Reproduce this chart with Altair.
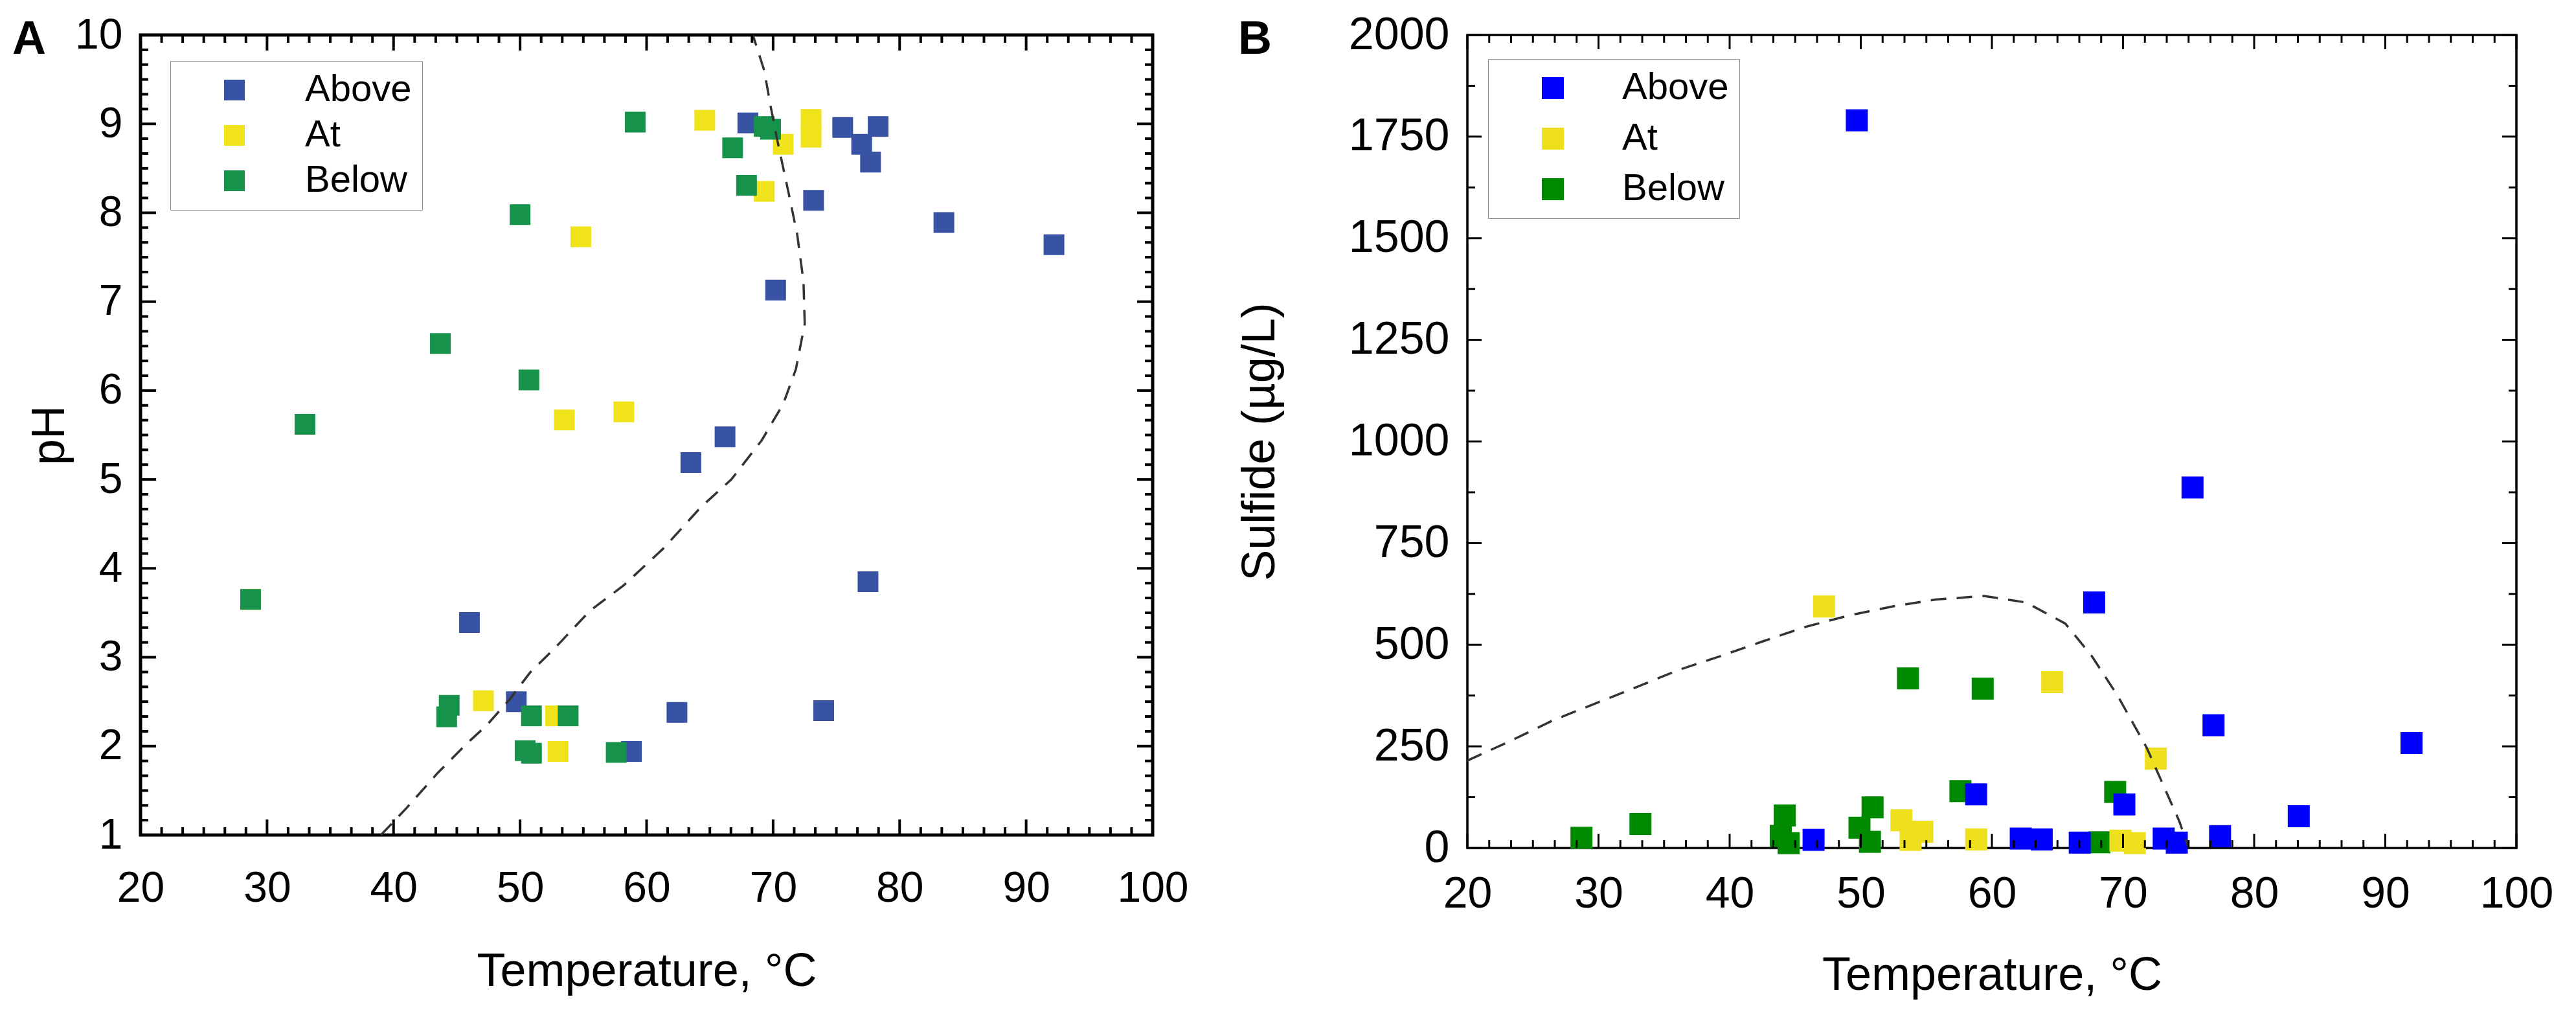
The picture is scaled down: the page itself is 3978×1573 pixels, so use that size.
import altair as alt
import pandas as pd

FONT = "Liberation Sans"
CATS = ["Above", "At", "Below"]

# ---------------- Panel A : pH vs temperature ----------------
A_above_T = [68.0, 75.5, 78.3, 77.0, 77.7, 73.2, 83.5, 92.2, 70.2, 66.2, 63.5, 77.5, 46.0, 49.7, 62.4, 74.0, 58.8]
A_above_pH = [9.01, 8.96, 8.97, 8.77, 8.57, 8.14, 7.89, 7.64, 7.13, 5.48, 5.19, 3.85, 3.39, 2.50, 2.38, 2.40, 1.94]

A_at_T = [64.6, 70.8, 73.0, 73.0, 69.3, 54.8, 58.2, 53.5, 28.7, 47.1, 52.8, 53.0]
A_at_pH = [9.04, 8.77, 9.05, 8.85, 8.24, 7.73, 5.76, 5.67, 3.65, 2.51, 2.34, 1.94]

A_below_T = [59.1, 69.3, 69.8, 66.8, 67.9, 50.0, 43.7, 50.7, 33.0, 28.7, 44.2, 44.4, 50.9, 53.8, 50.4, 50.9, 57.6]
A_below_pH = [9.02, 8.97, 8.94, 8.73, 8.31, 7.98, 6.53, 6.12, 5.62, 3.65, 2.33, 2.46, 2.34, 2.34, 1.95, 1.92, 1.93]

A_curve_T = [39.0, 41.0, 43.5, 45.8, 47.4, 49.2, 50.8, 52.8, 55.5, 58.2, 61.3, 64.3, 66.7, 69.1, 70.8,
             71.8, 72.5, 72.4, 71.9, 71.2, 70.4, 69.8, 69.3, 68.4]
A_curve_pH = [1.0, 1.3, 1.7, 2.03, 2.24, 2.53, 2.83, 3.11, 3.52, 3.81, 4.22, 4.69, 5.0, 5.44, 5.85,
              6.24, 6.75, 7.23, 7.76, 8.24, 8.77, 9.2, 9.6, 10.0]

# ---------------- Panel B : sulfide vs temperature ----------------
B_above_T = [49.7, 75.3, 67.8, 76.9, 92.0, 83.4, 58.8, 70.1, 46.4, 62.2, 63.8, 66.7, 73.1, 74.1, 77.4]
B_above_S = [1790, 887, 604, 302, 258, 78, 132, 107, 20, 23, 21, 13, 23, 13, 29]

B_at_T = [47.2, 64.6, 72.5, 53.1, 54.7, 53.8, 58.8, 69.8, 70.9]
B_at_S = [594, 408, 220, 68, 40, 20, 21, 18, 12]

B_below_T = [28.7, 33.2, 44.2, 43.9, 44.5, 50.9, 49.9, 50.7, 53.6, 59.3, 57.6, 69.4, 68.2]
B_below_S = [25, 59, 80, 30, 12, 100, 50, 15, 417, 392, 140, 138, 14]

B_curve_T = [20, 23.2, 26.6, 29.8, 33.0, 36.2, 39.3, 42.5, 45.8, 49.1, 52.4, 55.7, 59.4, 62.6,
             65.6, 67.6, 69.6, 71.8, 74.3, 75.0]
B_curve_S = [215, 262, 315, 356, 397, 439, 472, 508, 544, 572, 594, 611, 620, 604,
             552, 473, 374, 247, 65, 0]

# tick labels
X_TICKS = [20, 30, 40, 50, 60, 70, 80, 90, 100]
A_Y_TICKS = [1, 2, 3, 4, 5, 6, 7, 8, 9, 10]
B_Y_TICKS = [0, 250, 500, 750, 1000, 1250, 1500, 1750, 2000]


def pts(groups):
    frames = []
    for cat, xs, ys in groups:
        frames.append(pd.DataFrame({"T": xs, "v": ys, "cat": cat}))
    return pd.concat(frames, ignore_index=True)


def minors(majors, n):
    out = []
    for a, b in zip(majors[:-1], majors[1:]):
        for j in range(1, n + 1):
            out.append(round(a + (b - a) * j / (n + 1), 4))
    return out


def tick_layers(xmaj, xmin, ymaj, ymin, W, H, X, Y, Lmaj, Lmin, sw):
    layers = []
    for vals, L in [(xmaj, Lmaj), (xmin, Lmin)]:
        base = alt.Chart(pd.DataFrame({"T": vals})).mark_rule(color="black", strokeWidth=sw)
        layers.append(base.encode(x=X, y=alt.value(H), y2=alt.value(H - L)))
        layers.append(base.encode(x=X, y=alt.value(0), y2=alt.value(L)))
    for vals, L in [(ymaj, Lmaj), (ymin, Lmin)]:
        base = alt.Chart(pd.DataFrame({"v": vals})).mark_rule(color="black", strokeWidth=sw)
        layers.append(base.encode(y=Y, x=alt.value(0), x2=alt.value(L)))
        layers.append(base.encode(y=Y, x=alt.value(W), x2=alt.value(W - L)))
    return layers


def panel(df, curve, W, H, xs, ys, yticks, ymin, ytitle, colors, leg, ax, letter, letter_x, view_sw,
          size, tick_maj, tick_min, tick_sw):
    xaxis = alt.Axis(values=X_TICKS, title="Temperature, °C", labelFontSize=ax["lfs"], format="d",
                     labelPadding=ax["xlp"], titleFontSize=72, titlePadding=ax["xtp"])
    yaxis = alt.Axis(values=yticks, title=ytitle, labelFontSize=ax["ylfs"], format="d",
                     labelPadding=ax["ylp"], titleFontSize=72, titlePadding=ax["ytp"])
    X = alt.X("T:Q", scale=xs, axis=xaxis)
    Y = alt.Y("v:Q", scale=ys, axis=yaxis)
    points = alt.Chart(df).mark_square(size=size, opacity=1, strokeWidth=0).encode(
        x=X, y=Y,
        color=alt.Color("cat:N", scale=alt.Scale(domain=CATS, range=colors), legend=leg),
    )
    line = alt.Chart(curve).mark_line(color="#333333", strokeWidth=3.5, strokeDash=[24, 16]).encode(
        x=X, y=Y, order="i:Q",
    )
    lab = alt.Chart(pd.DataFrame({"t": [letter]})).mark_text(
        font=FONT, fontSize=72, fontWeight="bold", align="left", baseline="top", color="black"
    ).encode(x=alt.value(letter_x), y=alt.value(-28), text="t:N")
    ticks = tick_layers(X_TICKS, minors(X_TICKS, 5), yticks, ymin, W, H, X, Y, tick_maj, tick_min, tick_sw)
    return alt.layer(points, line, lab, *ticks).properties(
        width=W, height=H, view=alt.ViewBackground(stroke="black", strokeWidth=view_sw)
    )


# ---- Panel A
dfA = pts([("Above", A_above_T, A_above_pH), ("At", A_at_T, A_at_pH), ("Below", A_below_T, A_below_pH)])
curveA = pd.DataFrame({"T": A_curve_T, "v": A_curve_pH, "i": range(len(A_curve_T))})
xA = alt.Scale(domain=[20, 100], nice=False, zero=False)
yA = alt.Scale(domain=[1, 10], nice=False, zero=False)
legA = alt.Legend(orient="none", legendX=46, legendY=40, title=None, symbolType="square",
                  symbolSize=1024, symbolStrokeWidth=0, symbolOpacity=1, labelFontSize=58,
                  labelFont=FONT, labelLimit=400, padding=16, symbolOffset=54, labelOffset=80,
                  rowPadding=12, strokeColor="#8a8a8a", fillColor="white")
chartA = panel(dfA, curveA, 1563, 1235, xA, yA, A_Y_TICKS, minors(A_Y_TICKS, 5), "pH",
               ["#3953A4", "#F0E31C", "#17924A"], legA,
               {"lfs": 66, "xlp": 50, "xtp": 60, "ylfs": 66, "ylp": 28, "ytp": 2},
               "A", -198, 5, 1024, 24, 12, 4)

# ---- Panel B
dfB = pts([("Below", B_below_T, B_below_S), ("At", B_at_T, B_at_S), ("Above", B_above_T, B_above_S)])
curveB = pd.DataFrame({"T": B_curve_T, "v": B_curve_S, "i": range(len(B_curve_T))})
xB = alt.Scale(domain=[20, 100], nice=False, zero=False)
yB = alt.Scale(domain=[0, 2000], nice=False, zero=False)
legB = alt.Legend(orient="none", legendX=32, legendY=37, title=None, symbolType="square",
                  symbolSize=1156, symbolStrokeWidth=0, symbolOpacity=1, labelFontSize=58,
                  labelFont=FONT, labelLimit=400, padding=16, symbolOffset=55, labelOffset=78,
                  rowPadding=20, strokeColor="#8a8a8a", fillColor="white")
chartB = panel(dfB, curveB, 1620, 1255, xB, yB, B_Y_TICKS, minors(B_Y_TICKS, 1), "Sulfide (µg/L)",
               ["#0000FF", "#EEE01E", "#008A00"], legB,
               {"lfs": 68, "xlp": 37, "xtp": 56, "ylfs": 70, "ylp": 28, "ytp": 100},
               "B", -354, 3.5, 1156, 22, 12, 3)

chart = alt.hconcat(chartA, chartB, spacing=486, bounds="flush").resolve_scale(
    color="independent"
).properties(
    padding={"left": 8, "top": 9, "right": 5, "bottom": 5}
).configure_axis(
    grid=False, domain=False, ticks=False, labelFont=FONT, titleFont=FONT, labelColor="black",
    titleColor="black", titleFontWeight="normal", labelFlush=False, labelOverlap=False
).configure_view(stroke="black")

chart.save("out.html", embed_options={"renderer": "svg", "actions": False})
